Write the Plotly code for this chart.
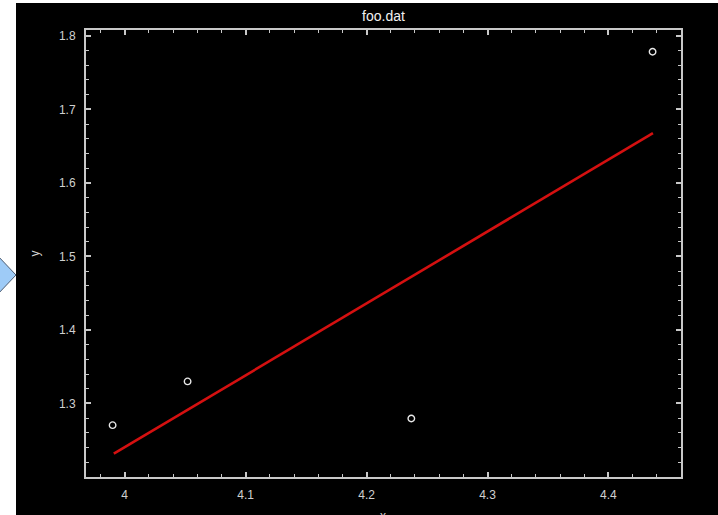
import plotly.graph_objects as go

# ---- data ----
pts_x = [3.990, 4.052, 4.237, 4.4365]
pts_y = [1.2705, 1.330, 1.2796, 1.7785]
fit_x = [3.991, 4.4368]
fit_y = [1.2317, 1.6677]
x_ticks = [4.0, 4.1, 4.2, 4.3, 4.4]
x_tick_labels = ["4", "4.1", "4.2", "4.3", "4.4"]
y_ticks = [1.3, 1.4, 1.5, 1.6, 1.7, 1.8]
y_tick_labels = ["1.3", "1.4", "1.5", "1.6", "1.7", "1.8"]

W, H = 718, 515
L, R, T, B = 86, 681, 30, 477


def px(x):
    return (x - L) / (R - L)


def py(y):
    return (B - y) / (B - T)


axis_col = "#c8c8c8"
font_fam = "Liberation Sans, Arial, sans-serif"

fig = go.Figure()
fig.add_trace(go.Scatter(
    x=pts_x, y=pts_y, mode="markers",
    marker=dict(symbol="circle-open", size=6.5, color="#e8e8e8", line=dict(width=1.4, color="#e8e8e8")),
    hoverinfo="skip", showlegend=False,
))
fig.add_trace(go.Scatter(
    x=fit_x, y=fit_y, mode="lines",
    line=dict(color="#d41010", width=2.6),
    hoverinfo="skip", showlegend=False,
))

common = dict(
    showgrid=False, zeroline=False, showline=True, linecolor=axis_col, linewidth=2,
    mirror="ticks", ticks="inside", ticklen=5, tickwidth=1.5, tickcolor=axis_col,
    tickfont=dict(family=font_fam, size=12, color="#d0d0d0"),
    minor=dict(ticks="inside", ticklen=3, tickwidth=1.3, tickcolor=axis_col),
    automargin=False,
)

fig.update_layout(
    width=W, height=H,
    margin=dict(l=L, r=W - R, t=T, b=H - B, autoexpand=False),
    paper_bgcolor="black", plot_bgcolor="black",
    title=dict(text="foo.dat", x=px(383.5), xref="paper", xanchor="center",
               y=1 - 16 / H, yref="container", yanchor="middle",
               font=dict(family=font_fam, size=14, color="#f0f0f0")),
    xaxis=dict(range=[3.968, 4.460], tickvals=x_ticks, ticktext=x_tick_labels,
               ticklabelstandoff=6, **common),
    yaxis=dict(range=[1.2, 1.808], tickvals=y_ticks, ticktext=y_tick_labels,
               ticklabelstandoff=6,
               title=dict(text="y", standoff=17, font=dict(family=font_fam, size=12, color="#d0d0d0")),
               **common),
    annotations=[
        dict(text="x", xref="paper", yref="paper", x=px(383), y=py(516), xanchor="center",
             yanchor="middle", showarrow=False,
             font=dict(family=font_fam, size=12, color="#d0d0d0")),
    ],
    shapes=[
        dict(type="rect", xref="paper", yref="paper", x0=px(-5), x1=px(16), y0=py(520), y1=py(-5),
             fillcolor="white", line=dict(width=0), layer="above"),
        dict(type="rect", xref="paper", yref="paper", x0=px(-5), x1=px(725), y0=py(3), y1=py(-5),
             fillcolor="white", line=dict(width=0), layer="above"),
        dict(type="path", xref="paper", yref="paper",
             path=f"M {px(-3)},{py(255)} L {px(16)},{py(275)} L {px(-3)},{py(295)} Z",
             fillcolor="#9ecbf7", line=dict(color="#4a5a70", width=1), layer="above"),
    ],
)
fig.update_xaxes(minor_dtick=0.02)
fig.update_yaxes(minor_dtick=0.02)

fig.write_html("out.html", config={"displayModeBar": False},
               post_script="document.body.style.margin='0';document.body.style.overflow='hidden';")
